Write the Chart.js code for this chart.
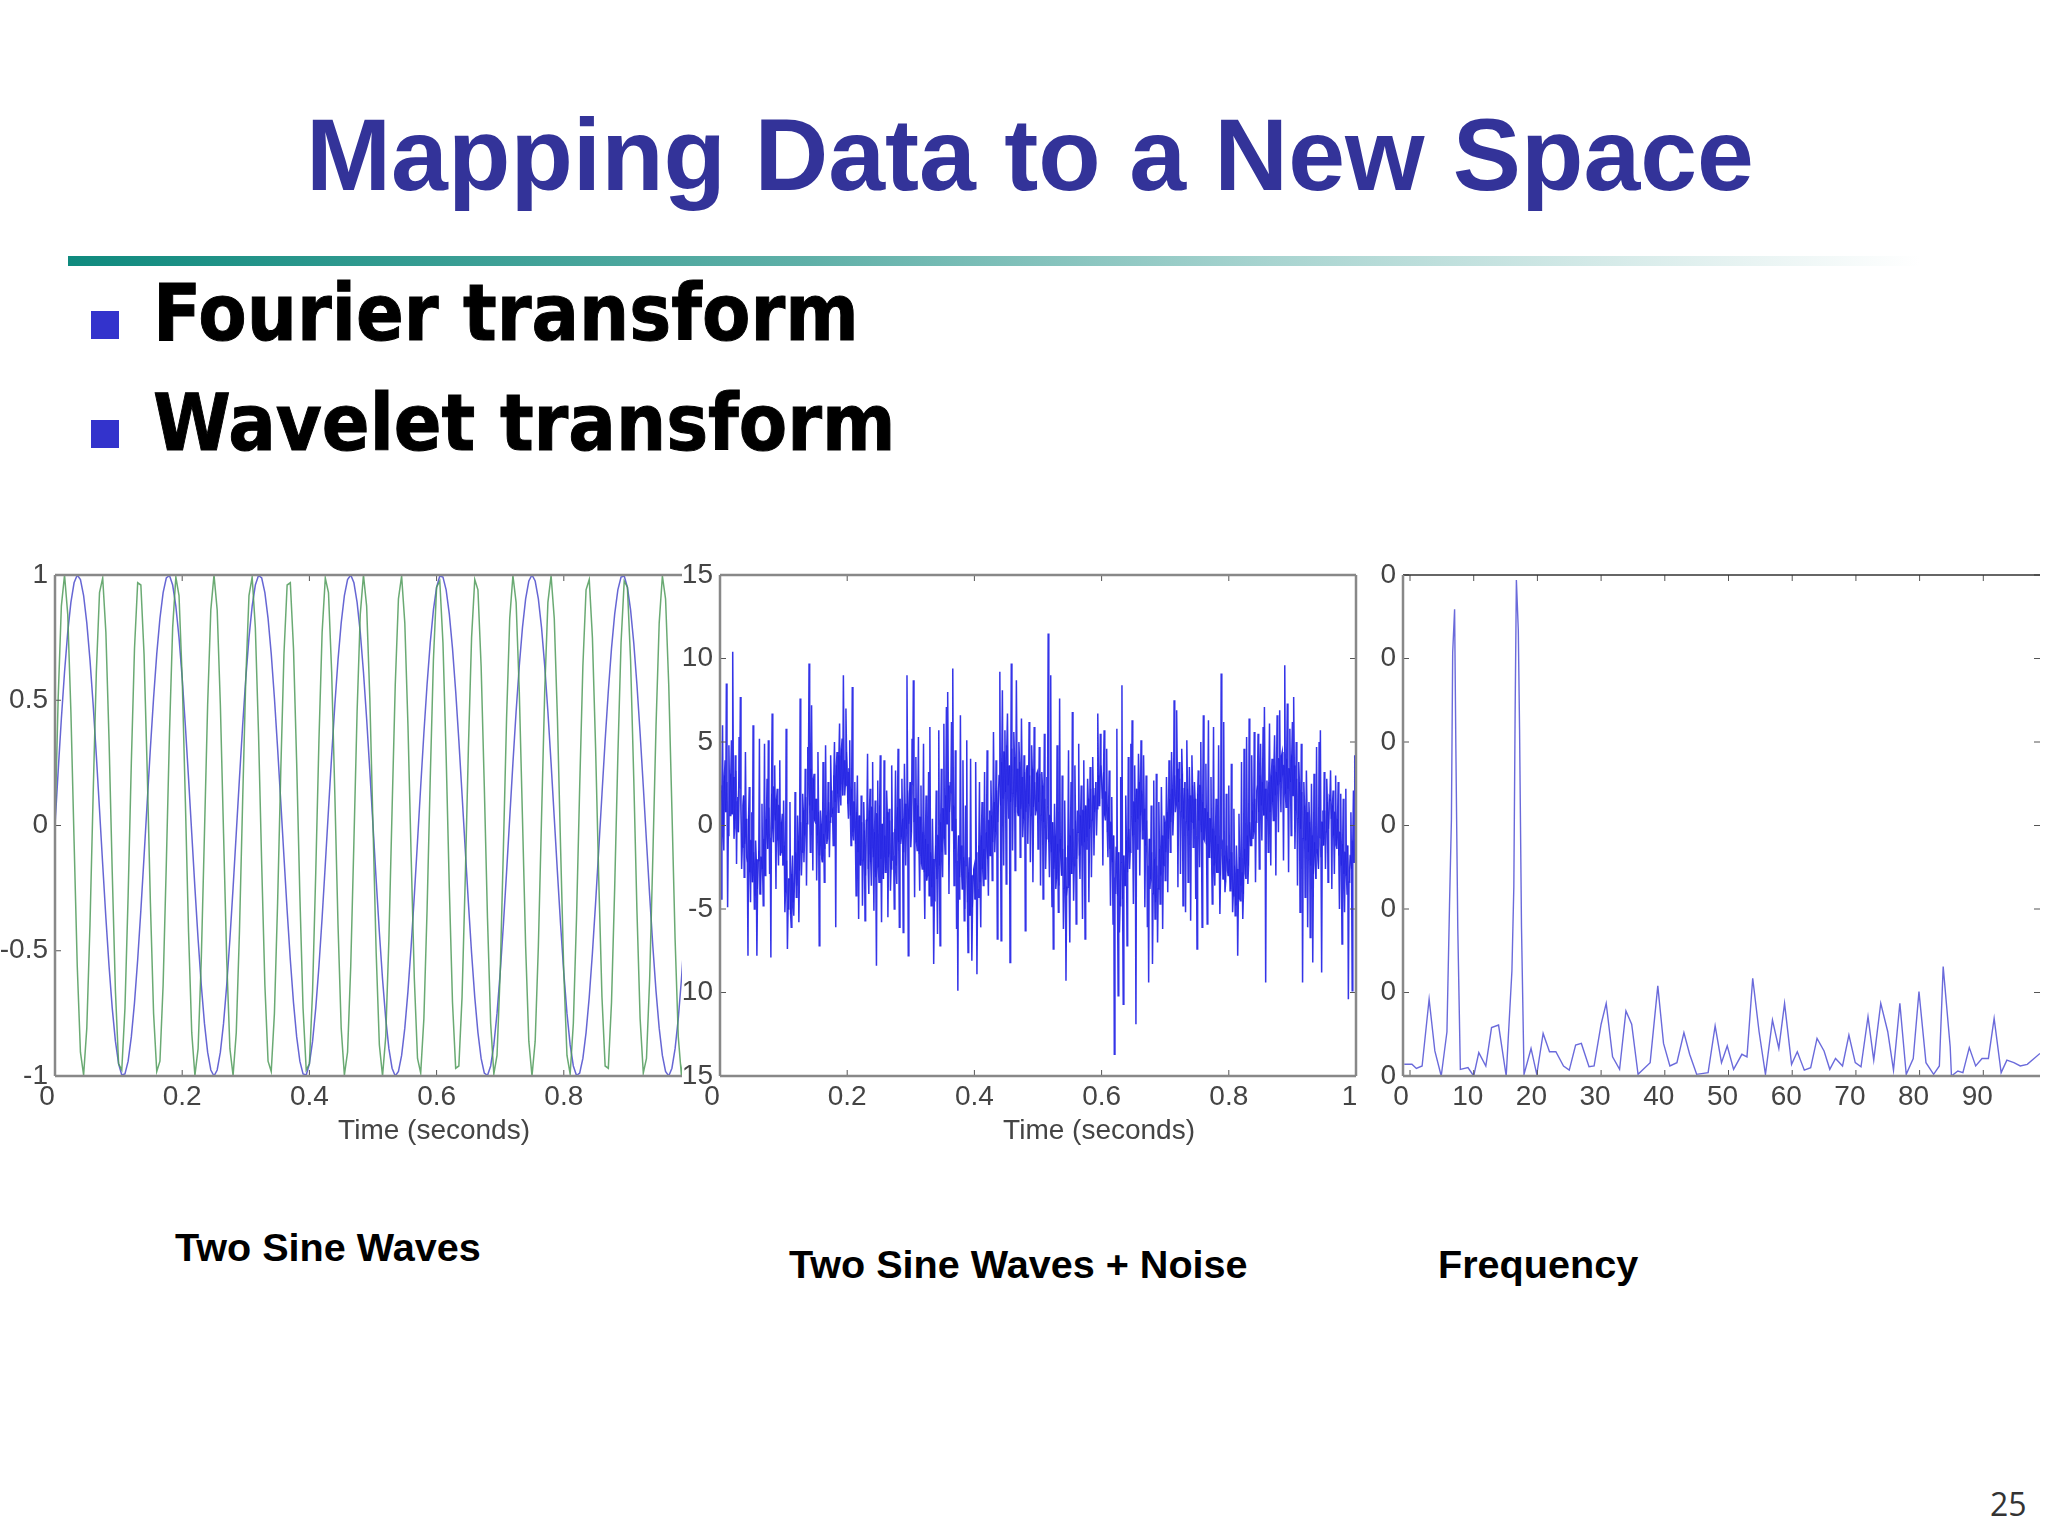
<!DOCTYPE html>
<html><head><meta charset="utf-8">
<style>
html,body{margin:0;padding:0;background:#fff;width:2048px;height:1536px;overflow:hidden}
.t{position:absolute;white-space:nowrap;line-height:1;transform-origin:0 0}
#title{left:306px;top:104px;font:bold 102.2px/1 "Liberation Sans",Arial,sans-serif;color:#333399}
#bar{position:absolute;left:68px;top:256px;width:1852px;height:10px;background:linear-gradient(90deg,#0f8a7e,#5fb0a8 40%,#a8d4d0 65%,#ffffff)}
.sq{position:absolute;left:91px;width:28px;height:28px;background:#3333cc}
.b{left:153px;font:bold 78px/1 "DejaVu Sans",Verdana,sans-serif;color:#000;transform:scaleX(.904);-webkit-text-stroke:1px #000}
.c{font:bold 39.6px/1 "Liberation Sans",Arial,sans-serif;color:#000}
.w{position:absolute;overflow:hidden}
canvas{display:block}
</style>
<script src="https://cdn.jsdelivr.net/npm/chart.js@4/dist/chart.umd.min.js"></script>
</head><body>
<div class="t" id="title">Mapping Data to a New Space</div>
<div id="bar"></div>
<div class="sq" style="top:311px"></div>
<div class="t b" id="b1" style="top:274px">Fourier transform</div>
<div class="sq" style="top:420px"></div>
<div class="t b" id="b2" style="top:384px">Wavelet transform</div>
<div class="w" style="left:0;top:545px;width:682px;height:620px"><canvas id="c1" width="720" height="620"></canvas></div>
<div class="w" style="left:682px;top:545px;width:680px;height:620px"><canvas id="c2" width="700" height="620"></canvas></div>
<div class="w" style="left:1362px;top:545px;width:686px;height:620px"><canvas id="c3" width="706" height="620"></canvas></div>
<div class="t c" style="left:175px;top:1228px">Two Sine Waves</div>
<div class="t c" style="left:789px;top:1245px">Two Sine Waves + Noise</div>
<div class="t c" style="left:1438px;top:1245px">Frequency</div>
<div class="t" style="left:1990px;top:1488px;font:32px/1 'Open Sans',sans-serif;color:#333">25</div>
<script>
const blueSine=[0,.218,.426,.613,.771,.891,.969,1,.982,.918,.809,.661,.482,.279,.063,-.156,-.368,-.562,-.729,-.861,-.951,-.996,-.992,-.941,-.844,-.707,-.536,-.339,-.125,.094,.309,.509,.685,.827,.930,.988,.998,.960,.876,.750,.588,.397,.187,-.031,-.249,-.454,-.637,-.790,-.905,-.976,-1,-.976,-.905,-.790,-.637,-.454,-.249,-.031,.187,.397,.588,.750,.876,.960,.998,.988,.930,.827,.685,.509,.309,.094,-.125,-.339,-.536,-.707,-.844,-.941,-.992,-.996,-.951,-.861,-.729,-.562,-.368,-.156,.063,.279,.482,.661,.809,.918,.982,1,.969,.891,.771,.613,.426,.218,0,
-.218,-.426,-.613,-.771,-.891,-.969,-1,-.982,-.918,-.809,-.661,-.482,-.279,-.063,.156,.368,.562,.729,.861,.951,.996,.992,.941,.844,.707,.536,.339,.125,-.094,-.309,-.509,-.685,-.827,-.930,-.988,-.998,-.960,-.876,-.750,-.588,-.397,-.187,.031,.249,.454,.637,.790,.905,.976,1,.976,.905,.790,.637,.454,.249,.031,-.187,-.397,-.588,-.750,-.876,-.960,-.998,-.988,-.930,-.827,-.685,-.509,-.309,-.094,.125,.339,.536,.707,.844,.941,.992,.996,.951,.861,.729,.562,.368,.156,-.063,-.279,-.482,-.661,-.809,-.918,-.982,-1,-.969,-.891,-.771,-.613,-.426,-.218];
const greenSine=[0,.509,.876,1,.844,.454,-.063,-.562,-.905,-.996,-.809,-.397,.125,.613,.930,.988,.771,.339,-.187,-.661,-.951,-.976,-.729,-.279,.249,.707,.969,.960,.685,.218,-.309,-.750,-.982,-.941,-.637,-.156,.368,.790,.992,.918,.588,.094,-.426,-.827,-.998,-.891,-.536,-.031,.482,.861,1,
.861,.482,-.031,-.536,-.891,-.998,-.827,-.426,.094,.588,.918,.992,.790,.368,-.156,-.637,-.941,-.982,-.750,-.309,.218,.685,.960,.969,.707,.249,-.279,-.729,-.976,-.951,-.661,-.187,.339,.771,.988,.930,.613,.125,-.397,-.809,-.996,-.905,-.562,-.063,.454,.844,1,.876,.509,0,
-.509,-.876,-1,-.844,-.454,.063,.562,.905,.996,.809,.397,-.125,-.613,-.930,-.988,-.771,-.339,.187,.661,.951,.976,.729,.279,-.249,-.707,-.969,-.960,-.685,-.218,.309,.750,.982,.941,.637,.156,-.368,-.790,-.992,-.918,-.588,-.094,.426,.827,.998,.891,.536,.031,-.482,-.861,-1,
-.861,-.482,.031,.536,.891,.998,.827,.426,-.094,-.588,-.918,-.992,-.790,-.368,.156,.637,.941,.982,.750,.309,-.218,-.685,-.960,-.969,-.707,-.249,.279,.729,.976,.951,.661,.187,-.339,-.771,-.988,-.930,-.613,-.125,.397,.809,.996,.905,.562,.063,-.454,-.844,-1,-.876,-.509];
const noisySpikes=[2.1,-4.4,6.0,-1.5,3.9,8.5,-4.9,4.8,0.6,5.1,10.4,-0.8,4.2,-2.3,1.7,5.3,7.7,-2.6,1.2,-3.1,4.4,-1.9,-7.8,2.3,-4.6,0.8,6.0,-5.0,-0.9,-7.8,-2.1,5.2,-3.7,1.3,-4.8,4.9,-1.2,2.8,5.1,-2.9,-7.9,6.7,-1.0,3.6,-3.8,2.2,-2.4,3.9,-1.6,0.7,
1.5,-5.2,5.8,-7.4,-3.2,1.4,-6.1,-1.8,-5.4,2.0,-4.3,0.6,-5.8,7.6,-3.0,1.9,-2.2,3.4,-3.6,4.7,9.7,-1.6,7.2,-2.7,3.1,0.2,-3.3,4.4,-7.2,0.9,-2.0,3.8,-3.4,4.8,-1.1,2.6,-1.9,4.2,0.5,-1.2,5.0,-6.1,4.4,0.8,6.1,1.2,5.2,9.0,1.8,7.0,
3.2,0.4,5.1,-1.2,8.3,-0.9,2.6,-4.2,3.0,-5.6,-1.2,1.8,-4.8,1.4,-5.7,0.3,4.3,-4.1,2.2,-3.6,3.8,-5.1,1.5,-8.4,2.7,-3.4,4.2,-5.8,-0.4,3.9,-2.8,2.1,-5.5,1.0,-3.9,3.6,-2.1,-5.0,3.3,-3.5,4.6,-6.1,-1.1,2.8,-6.4,3.7,-2.4,9.0,-7.8,1.9,
-1.3,5.2,8.7,-4.3,4.1,-1.5,5.3,-3.9,2.4,-2.6,4.9,-5.6,1.8,-3.0,3.2,5.9,-4.8,0.4,-8.3,-2.6,2.1,-6.5,5.7,-7.2,3.4,-3.1,6.1,-1.7,7.1,8.0,-4.1,2.6,6.2,9.4,-3.6,4.5,-6.2,-9.9,-4.4,6.6,-2.8,3.9,-5.7,1.2,5.1,-7.6,-1.9,4.0,-8.1,-3.0,
-2.4,3.8,-8.9,-4.3,2.6,-6.1,1.4,-3.6,3.2,-2.1,4.5,-4.2,0.9,2.7,-3.3,5.6,-1.6,3.9,-6.8,2.2,9.2,-6.9,8.1,-2.4,5.7,-3.5,6.7,0.4,-8.2,9.7,-1.5,5.6,-2.7,8.7,0.8,5.0,-1.9,6.4,-0.7,4.2,-6.3,3.3,-1.1,6.2,-2.2,4.8,-3.4,5.9,0.6,3.1,
-1.4,4.7,-3.6,3.2,-4.4,5.5,-2.6,2.9,11.5,-3.1,9.0,-4.9,-7.4,1.3,-3.8,4.8,-5.2,7.6,-2.1,3.0,-6.2,1.5,-9.3,-3.7,4.5,-7.0,2.6,6.8,-4.5,3.6,-5.9,0.9,4.9,-3.2,2.4,-5.6,3.9,-6.8,-1.4,2.8,-4.6,3.5,-3.1,4.1,-1.8,2.2,-0.6,6.7,1.2,5.5,
2.8,-2.4,5.7,0.3,4.6,-1.9,3.3,-4.8,1.7,-5.9,-13.7,-4.1,5.8,-10.2,-6.4,2.9,8.4,-10.7,-3.3,1.8,-7.2,4.1,-2.6,4.9,6.3,-4.7,3.6,-11.9,-1.4,4.3,-3.0,5.1,-0.8,4.2,-4.9,3.0,-6.1,-9.4,-3.8,1.2,-8.3,2.7,-5.6,3.1,-7.0,1.4,-4.7,2.3,-6.2,0.6,
-3.3,2.9,-4.0,3.9,-1.6,4.4,-0.6,7.5,0.8,6.9,-3.7,3.8,-2.9,4.6,-4.8,2.2,-5.2,5.1,-3.4,3.5,-5.7,4.2,-1.3,2.6,-4.4,-7.4,3.3,-2.5,5.0,-6.1,6.6,-0.9,3.7,-5.9,6.3,-1.8,2.9,-4.7,5.9,-3.6,1.6,-2.8,4.8,-5.3,9.1,-1.2,6.2,-4.0,1.9,-2.7,
2.4,-3.9,3.7,-5.2,1.0,-5.4,-1.2,-7.8,0.7,-4.5,3.8,-5.6,4.6,-2.9,5.3,-3.5,6.4,-1.2,4.2,-0.8,5.6,-3.4,2.1,5.5,-2.6,4.9,-0.9,5.9,7.1,-9.4,2.7,-1.6,6.1,-2.4,4.0,0.3,5.4,-3.0,6.6,-0.4,6.9,0.8,4.4,-2.1,9.6,1.1,7.3,-2.8,5.8,-0.6,
6.2,7.7,-1.4,5.0,-3.6,3.8,-5.2,4.9,-9.4,2.6,-4.3,3.3,-6.1,1.4,-6.7,2.5,-8.2,3.1,-2.4,4.7,-1.8,5.0,5.7,-8.8,0.9,3.2,-2.6,2.8,-3.4,1.7,3.3,-3.8,2.1,-2.9,3.0,-1.4,2.6,-5.0,1.9,-7.1,1.6,-5.2,2.2,-4.1,-10.4,-2.7,0.8,-9.9,2.1,4.2];
const noisyCore=[1.2,2.4,-0.1,3.0,0.8,2.6,-0.6,1.9,3.1,0.7,2.9,-0.2,3.3,1.4,-0.4,2.2,0.9,-1.3,1.8,-1.1,0.4,-2.2,0.6,-2.8,-0.9,-3.4,-1.6,-4.2,-2.0,-3.8,-1.5,-4.1,-1.9,-2.6,-0.8,-3.0,0.4,-1.4,1.1,-0.7,1.9,-0.2,2.3,0.3,1.6,-0.9,1.2,-1.8,0.2,-2.4,
-1.2,-4.0,-2.1,-5.0,-3.2,-5.3,-2.9,-4.6,-3.4,-1.6,-3.6,-0.9,-2.7,0.2,-1.6,0.9,-0.6,1.7,0.1,2.6,1.2,3.4,0.9,2.8,0.3,1.6,-0.6,0.8,-1.8,0.1,-2.2,-0.5,-1.4,0.6,-0.8,1.4,0.2,2.1,0.7,3.0,1.4,3.6,1.9,4.2,2.1,4.6,1.8,3.9,2.4,4.4,
1.3,3.4,0.6,2.2,-0.4,1.4,-1.1,0.8,-1.6,0.6,-2.4,0.2,-2.1,-0.3,-3.0,0.4,-2.6,0.9,-2.2,1.1,-1.9,-0.4,-3.1,0.7,-2.5,1.2,-2.0,0.1,-3.2,-0.6,-2.7,0.8,-1.9,0.3,-2.6,-0.4,-1.8,-0.2,-2.4,1.1,-1.0,1.6,-0.7,0.4,-1.6,1.3,-0.2,2.1,0.1,2.6,
-0.4,2.4,0.2,1.6,-1.0,1.2,-1.7,0.5,-2.3,-0.4,-2.8,-0.8,-3.3,-1.1,-4.2,-1.6,-3.7,-2.0,-4.5,-1.2,-3.2,-0.6,-2.4,0.2,-1.6,1.0,-0.8,1.8,0.1,2.4,0.8,1.9,-0.3,1.2,-1.4,0.4,-2.1,-0.6,-3.1,-1.2,-3.8,-1.9,-5.0,-2.4,-4.6,-2.8,-5.4,-3.0,-4.9,-2.6,
-4.4,-1.6,-3.8,-1.2,-3.4,-0.6,-2.6,-1.4,-3.2,-0.4,-2.0,0.3,-1.8,0.6,-1.0,1.4,-0.4,2.1,0.2,3.0,1.2,3.8,1.6,4.4,2.0,4.8,2.4,3.6,1.4,4.6,1.9,4.1,1.1,3.4,0.6,3.8,1.0,2.9,0.4,3.2,0.8,3.6,1.3,3.0,0.6,3.4,1.1,2.6,0.9,3.2,
1.4,3.1,0.6,2.4,0.2,1.6,-0.8,1.2,-1.0,0.6,-1.6,0.2,-2.6,-0.6,-3.2,-1.1,-3.6,-0.8,-3.0,-1.4,-3.8,-1.9,-4.2,-1.2,-3.6,-0.6,-2.9,-0.2,-2.4,0.3,-2.0,-0.4,-1.8,0.6,-1.2,0.9,-1.0,1.2,-0.7,1.6,-0.2,2.2,0.3,1.8,0.8,2.6,1.0,3.0,1.3,3.6,
1.6,3.2,0.6,2.0,-0.4,1.1,-1.4,0.2,-2.2,-0.6,-3.1,-1.3,-4.2,-1.6,-4.8,-2.2,-4.4,-1.8,-3.6,-0.9,-2.8,-0.2,-1.6,0.6,-0.6,1.4,0.2,2.2,0.4,2.6,0.6,2.1,-0.3,1.0,-1.2,0.3,-2.4,-0.8,-3.2,-1.6,-4.1,-2.0,-4.6,-2.4,-3.8,-1.4,-3.0,-0.6,-2.4,0.2,
-1.6,0.8,-0.8,1.6,0.2,2.2,0.6,3.0,1.2,3.4,1.4,2.8,0.8,3.1,0.4,2.6,0.2,2.2,-0.3,1.8,0.2,2.4,-0.2,1.6,-0.6,1.9,0.3,2.4,-0.4,1.4,-0.8,1.0,-1.2,0.8,-1.9,0.4,-2.0,-0.2,-2.4,-0.6,-2.8,-1.1,-1.9,-3.0,-1.4,-3.2,-1.8,-3.4,-1.2,-3.0,
-2.0,-3.8,-1.6,-4.2,-2.4,-4.8,-2.6,-4.4,-1.9,-3.6,-2.8,-4.1,-1.4,-3.2,-0.6,-2.4,0.2,-1.2,0.9,-0.4,1.6,0.2,2.4,0.8,3.0,1.2,2.6,0.6,2.2,0.4,1.4,2.6,0.8,3.0,1.4,3.6,1.8,3.2,2.4,4.0,2.6,4.2,3.0,3.6,1.9,4.0,2.2,3.4,2.6,4.2,
1.8,3.6,0.9,2.8,0.4,2.6,-0.2,2.0,-0.8,1.2,-0.9,0.8,-1.6,0.2,-2.4,-0.6,-2.9,-1.0,-3.2,-1.4,-2.6,-0.8,-1.9,0.2,-1.2,0.9,-0.4,1.4,-0.2,1.6,0.4,1.2,-0.6,0.8,-1.2,0.4,-1.8,-0.4,-2.4,-1.1,-2.9,-1.6,-3.0,-1.2,-3.4,-1.8,-2.6,-0.9,-2.2,-0.8];
const freqHz=[-.9,.3,1,1.9,3,3.9,4.9,5.8,6.2,6.5,6.7,7,7.2,7.5,7.9,9.1,10,10.8,11.9,12.8,13.9,15.1,16,16.3,16.5,16.7,17,17.2,17.5,17.9,19,19.9,20.9,21.9,22.9,24.1,25,26,26.9,28.1,28.9,30,30.8,31.8,32.9,33.9,34.8,35.8,37.7,38.9,39.8,40.8,41.9,43,43.9,45,46.8,47.9,48.9,49.8,50.8,52.1,52.9,53.8,54.8,55.8,56.9,57.9,58.8,59.9,60.8,61.9,62.9,63.9,65,65.9,66.8,67.9,68.9,69.9,70.8,71.9,72.8,73.9,75,75.9,76.9,77.9,79,79.9,81,82.2,83.1,83.7,84.8,85,86,86.8,87.8,88.8,89.8,90.8,91.7,92.8,93.7,94.8,95.8,96.9,98.9];
const magnitude=[14,14,9,12,92,30,0,53,204,307,507,559,392,177,8,10,0,28,12,58,61,0,126,227,433,594,534,415,179,2,33,2,51,29,29,12,7,37,39,11,12,62,87,23,8,78,62,2,16,108,39,12,16,52,26,2,4,60,16,36,8,26,23,117,53,2,67,33,87,14,29,7,10,45,30,8,21,12,49,16,11,71,19,87,53,7,87,2,21,101,16,2,12,131,35,0,6,4,34,12,21,21,69,4,19,16,12,14,27];
const timeTicks=[0,.2,.4,.6,.8,1];
const freqTicks=[0,10,20,30,40,50,60,70,80,90];
const y1Ticks=[1,.5,0,-.5,-1];
const y2Ticks=[15,10,5,0,-5,-10,-15];
const y2Labels=['15','10','5','0','-5','10','15'];
const y3Ticks=[600,500,400,300,200,100,0];
const y3Labels=['0','0','0','0','0','0','0'];
const xTitle='Time (seconds)';

const FONT='"Liberation Sans",Arial,sans-serif', TXT='#444';
const decor={id:'decor',
 beforeDraw(ch,a,o){
  const items=ch.scales.x.getLabelItems();
  (o.shift||[]).forEach(([i,dx])=>{const it=items[i<0?items.length+i:i]; if(it&&!it._s){it.options.translation[0]+=dx;it._s=1;}});
 },
 afterDatasetsDraw(ch,a,o){
  const {ctx,chartArea:A,scales:{x,y}}=ch;
  ctx.save();
  ctx.strokeStyle='#555';ctx.lineWidth=1;ctx.beginPath();
  x.ticks.forEach(t=>{const p=x.getPixelForValue(t.value);ctx.moveTo(p,A.bottom);ctx.lineTo(p,A.bottom-6);ctx.moveTo(p,A.top);ctx.lineTo(p,A.top+6);});
  y.ticks.forEach(t=>{const p=y.getPixelForValue(t.value);ctx.moveTo(A.left,p);ctx.lineTo(A.left+6,p);ctx.moveTo(A.right,p);ctx.lineTo(A.right-6,p);});
  ctx.stroke();
  const side=(c,w,x0,y0,x1,y1)=>{ctx.strokeStyle=c;ctx.lineWidth=w;ctx.beginPath();ctx.moveTo(x0,y0);ctx.lineTo(x1,y1);ctx.stroke();};
  side(o.top||'#888',o.topW||2.5,A.left,A.top,A.right,A.top);
  side('#888',2.5,A.left,A.bottom,A.right,A.bottom);
  side('#888',2.5,A.left,A.top,A.left,A.bottom);
  if(o.right) side('#888',2.5,A.right,A.top,A.right,A.bottom);
  if(o.title){ctx.fillStyle=TXT;ctx.font='28px '+FONT;ctx.textAlign='center';ctx.textBaseline='middle';ctx.fillText(o.title,x.getPixelForValue(o.titleAt),A.bottom+55);}
  ctx.restore();
 }};
function mk(id,datasets,c){
  const labelFor=(v)=>{const i=c.yTicks.indexOf(v);return c.yLabels?c.yLabels[i]:String(v);};
  return new Chart(document.getElementById(id),{type:'line',data:{datasets},plugins:[decor],options:{
    responsive:false,animation:false,devicePixelRatio:1,
    layout:{padding:{left:0,right:c.padR,top:30,bottom:0}},
    plugins:{legend:{display:false},tooltip:{enabled:false},title:{display:false},decor:c.decor},
    elements:{point:{radius:0},line:{tension:0}},
    scales:{
      x:{type:'linear',min:c.xMin,max:c.xMax,grid:{display:false,drawTicks:false},border:{display:false},
        afterBuildTicks:s=>{s.ticks=c.xTicks.map(v=>({value:v}));},
        afterFit:s=>{s.height=c.h;},
        ticks:{autoSkip:false,maxRotation:0,minRotation:0,padding:4,labelOffset:c.lo,color:TXT,font:{family:FONT,size:28},callback:v=>String(v)}},
      y:{type:'linear',min:c.yMin,max:c.yMax,grid:{display:false,drawTicks:false},border:{display:false},
        afterBuildTicks:s=>{s.ticks=c.yTicks.map(v=>({value:v}));},
        afterFit:s=>{s.width=c.w;},
        ticks:{autoSkip:false,padding:7,color:TXT,font:{family:FONT,size:28},callback:labelFor}}
    }}});
}
const pairs=(ys,f)=>ys.map((y,i)=>({x:f(i),y}));
const N=noisySpikes.length;
const noisy=[];
noisySpikes.forEach((v,i)=>{noisy.push({x:i/N,y:v});noisy.push({x:(i+.5)/N,y:noisyCore[i]});});
mk('c1',[
  {data:pairs(greenSine,i=>i/200),borderColor:'rgba(80,155,90,.85)',borderWidth:1.5},
  {data:pairs(blueSine,i=>i/200),borderColor:'rgba(75,75,205,.85)',borderWidth:1.5}
],{xMin:0,xMax:1,yMin:-1,yMax:1,xTicks:timeTicks,yTicks:y1Ticks,w:55,h:89,lo:0,padR:29,decor:{title:xTitle,titleAt:.596,shift:[[0,-8]]}});
mk('c2',[
  {data:noisy,borderColor:'rgba(30,30,230,.9)',borderWidth:1.5},
  {data:pairs(noisyCore,i=>(i+.5)/N),borderColor:'rgba(10,10,190,.45)',borderWidth:1}
],{xMin:0,xMax:1,yMin:-15,yMax:15,xTicks:timeTicks,yTicks:y2Ticks,yLabels:y2Labels,w:38,h:89,lo:0,padR:26,decor:{title:xTitle,titleAt:.596,right:true,shift:[[0,-8],[-1,-6.5]]}});
mk('c3',[
  {data:freqHz.map((x,i)=>({x,y:magnitude[i]})),borderColor:'rgba(90,90,215,.9)',borderWidth:1.4}
],{xMin:-1.1,xMax:98.9,yMin:0,yMax:600,xTicks:freqTicks,yTicks:y3Ticks,yLabels:y3Labels,w:41,h:89,lo:-6,padR:28,decor:{top:'#333',topW:1.5,shift:[[0,-3]]}});
</script>
</body></html>
